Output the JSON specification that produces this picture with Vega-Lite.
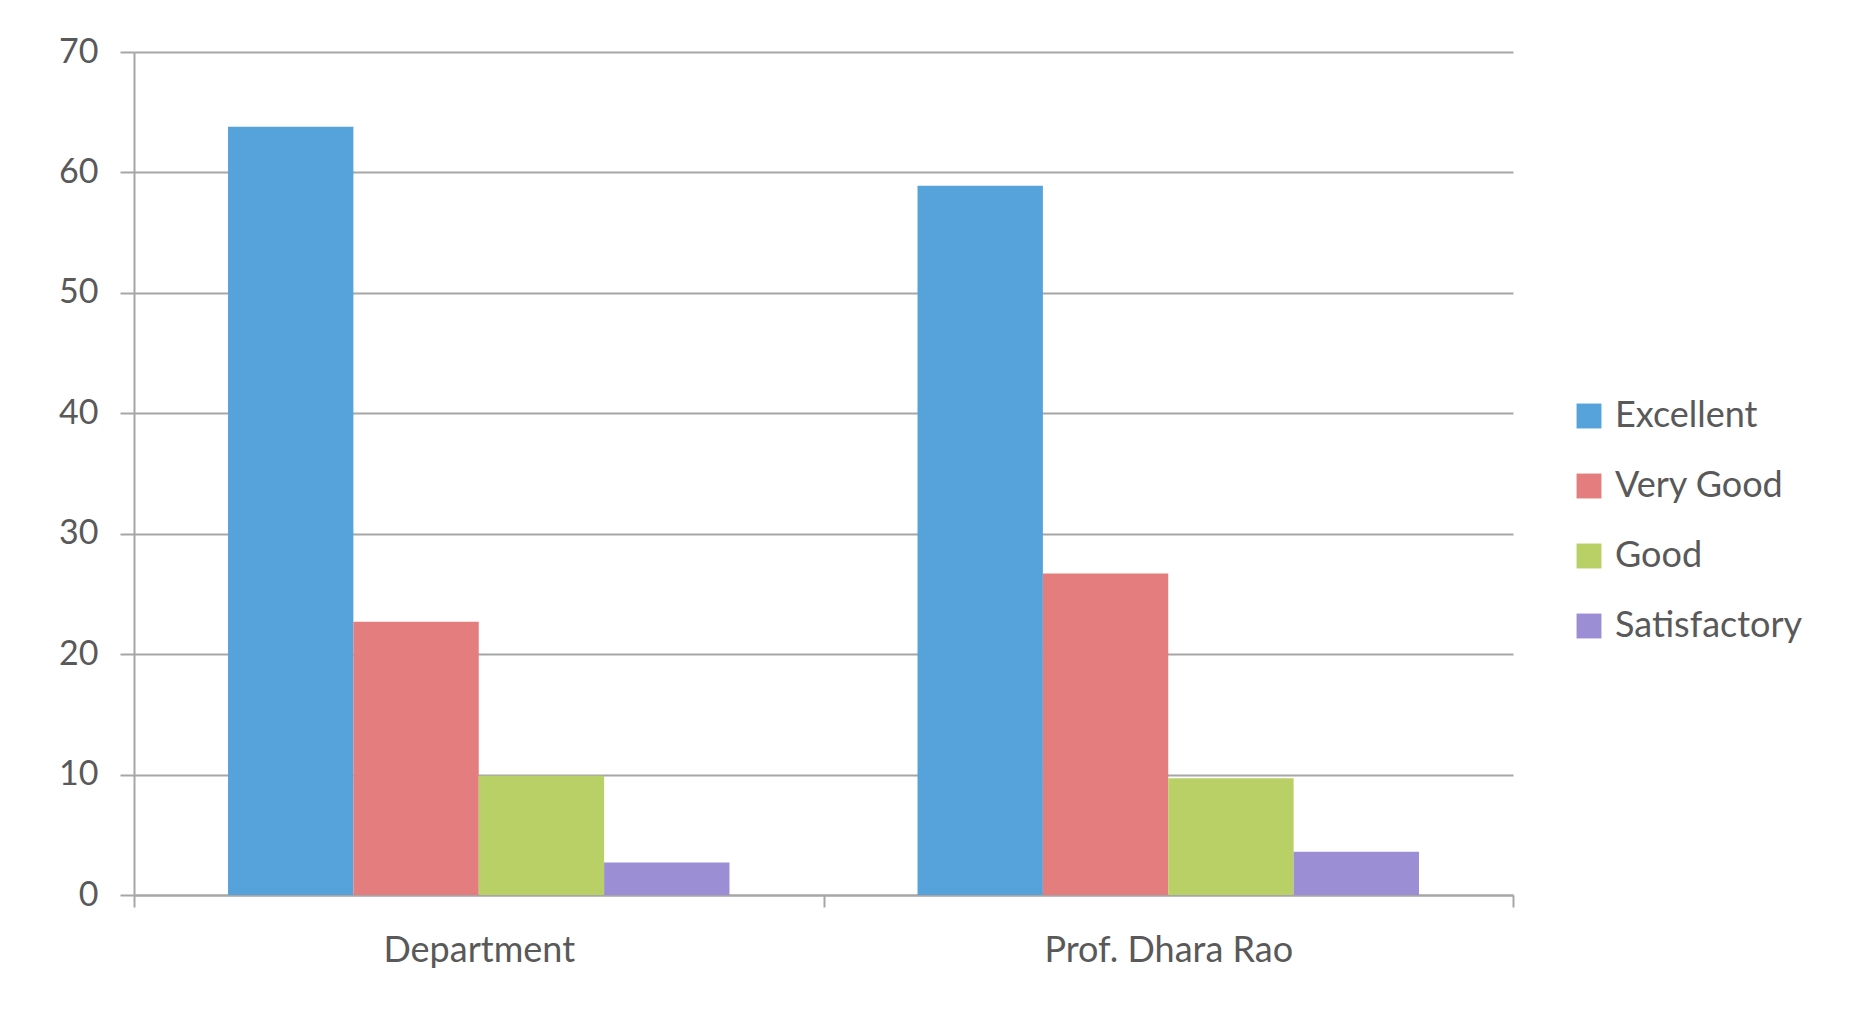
{
  "$schema": "https://vega.github.io/schema/vega-lite/v6.json",
  "width": 1379,
  "height": 843,
  "autosize": "none",
  "padding": {"left": 134, "top": 52, "right": 348, "bottom": 114},
  "background": "white",
  "data": {
    "values": [
      {"group": "Department", "rating": "Excellent", "value": 63.8},
      {"group": "Department", "rating": "Very Good", "value": 22.7},
      {"group": "Department", "rating": "Good", "value": 9.9},
      {"group": "Department", "rating": "Satisfactory", "value": 2.7},
      {"group": "Prof. Dhara Rao", "rating": "Excellent", "value": 58.9},
      {"group": "Prof. Dhara Rao", "rating": "Very Good", "value": 26.7},
      {"group": "Prof. Dhara Rao", "rating": "Good", "value": 9.7},
      {"group": "Prof. Dhara Rao", "rating": "Satisfactory", "value": 3.6}
    ]
  },
  "mark": {"type": "bar"},
  "encoding": {
    "x": {
      "field": "group",
      "type": "nominal",
      "sort": null,
      "title": null,
      "scale": {"paddingInner": 0, "paddingOuter": 0},
      "axis": {
        "labelAngle": 0,
        "labelFont": "Lato",
        "labelFontSize": 36,
        "labelColor": "#595959",
        "labelPadding": 26,
        "labelLimit": 0,
        "tickBand": "extent",
        "tickSize": 12,
        "tickColor": "#A6A6A6",
        "tickWidth": 2,
        "domainColor": "#A6A6A6",
        "domainWidth": 2
      }
    },
    "xOffset": {
      "field": "rating",
      "type": "nominal",
      "sort": ["Excellent", "Very Good", "Good", "Satisfactory"],
      "scale": {"paddingInner": 0, "paddingOuter": 0.75}
    },
    "y": {
      "field": "value",
      "type": "quantitative",
      "title": null,
      "scale": {"domain": [0, 70], "nice": false},
      "axis": {
        "values": [0, 10, 20, 30, 40, 50, 60, 70],
        "labelFont": "Lato",
        "labelFontSize": 34,
        "labelColor": "#595959",
        "labelPadding": 22,
        "tickSize": 14,
        "tickColor": "#A6A6A6",
        "tickWidth": 2,
        "domainColor": "#A6A6A6",
        "domainWidth": 2,
        "grid": true,
        "gridColor": "#A6A6A6",
        "gridWidth": 2
      }
    },
    "color": {
      "field": "rating",
      "type": "nominal",
      "sort": ["Excellent", "Very Good", "Good", "Satisfactory"],
      "scale": {
        "domain": ["Excellent", "Very Good", "Good", "Satisfactory"],
        "range": ["#56A3DC", "#E47D7D", "#B8D065", "#9C8ED4"]
      },
      "legend": {
        "title": null,
        "orient": "none",
        "legendX": 1437,
        "legendY": 346,
        "labelFont": "Lato",
        "labelFontSize": 36,
        "labelColor": "#595959",
        "labelOffset": 8,
        "labelLimit": 0,
        "symbolType": "square",
        "symbolSize": 620,
        "symbolStrokeWidth": 0,
        "rowPadding": 34
      }
    }
  },
  "config": {
    "view": {"stroke": null},
    "axis": {"labelFont": "Lato"}
  }
}
